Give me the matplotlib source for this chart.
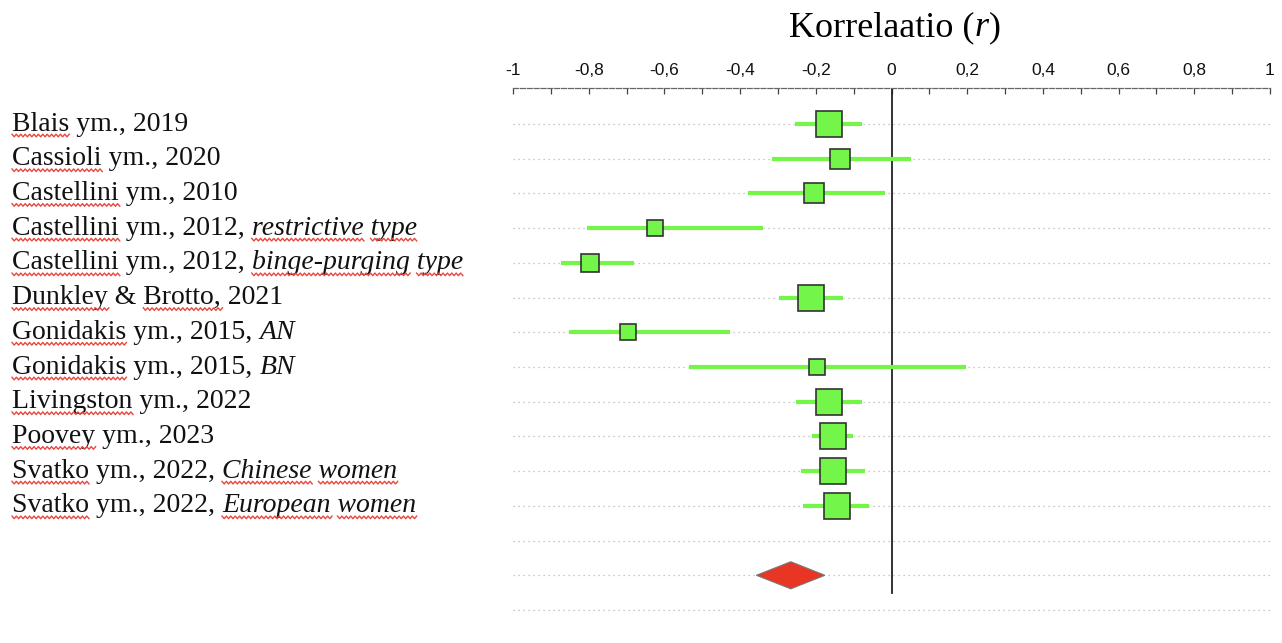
import matplotlib
matplotlib.use("Agg")
import matplotlib.pyplot as plt
from matplotlib.transforms import blended_transform_factory
from matplotlib.patches import Polygon
from matplotlib.lines import Line2D
from matplotlib.font_manager import FontProperties

# ---- data ----
studies = ["Blais ym., 2019", "Cassioli ym., 2020", "Castellini ym., 2010",
           "Castellini ym., 2012, ", "Castellini ym., 2012, ",
           "Dunkley & Brotto, 2021", "Gonidakis ym., 2015, ", "Gonidakis ym., 2015, ",
           "Livingston ym., 2022", "Poovey ym., 2023", "Svatko ym., 2022, ",
           "Svatko ym., 2022, "]
subgroups = ["", "", "", "restrictive type", "binge-purging type", "", "AN", "BN",
             "", "", "Chinese women", "European women"]
# words with spell-check underline in the reference: (word, in_italic_part)
flagged = [[("Blais", 0)], [("Cassioli", 0)], [("Castellini", 0)],
           [("Castellini", 0), ("restrictive", 1), ("type", 1)],
           [("Castellini", 0), ("binge-purging", 1), ("type", 1)],
           [("Dunkley", 0), ("Brotto,", 0)], [("Gonidakis", 0)], [("Gonidakis", 0)],
           [("Livingston", 0)], [("Poovey", 0)],
           [("Svatko", 0), ("Chinese", 1), ("women", 1)],
           [("Svatko", 0), ("European", 1), ("women", 1)]]
r_est = [-0.166, -0.136, -0.206, -0.626, -0.797, -0.213, -0.696, -0.198,
         -0.165, -0.155, -0.155, -0.145]
ci_low = [-0.254, -0.315, -0.380, -0.805, -0.873, -0.297, -0.853, -0.536,
          -0.251, -0.211, -0.240, -0.233]
ci_high = [-0.079, 0.051, -0.016, -0.339, -0.681, -0.127, -0.426, 0.198,
           -0.079, -0.102, -0.071, -0.059]
box_size = [26, 20, 20, 16, 18, 26, 16, 16, 26, 27, 27, 26]  # relative weight (px)
pooled = -0.266
pooled_low = -0.357
pooled_high = -0.176
xticks = [-1, -0.8, -0.6, -0.4, -0.2, 0, 0.2, 0.4, 0.6, 0.8, 1]
xtick_labels = ["-1", "-0,8", "-0,6", "-0,4", "-0,2", "0", "0,2", "0,4", "0,6", "0,8", "1"]

W, H = 1282, 643
fig = plt.figure(figsize=(W / 100, H / 100), dpi=100)
fig.patch.set_facecolor("white")

ax_left, ax_right = 513 / W, 1270 / W
ax_top_px, ax_bot_px = 88, 622
ax = fig.add_axes([ax_left, (H - ax_bot_px) / H, ax_right - ax_left, (ax_bot_px - ax_top_px) / H])

row_px = 34.71
y_top = 1 - (124 - ax_top_px) / row_px
y_bot = 15 + (ax_bot_px - 610) / row_px
ax.set_xlim(-1, 1)
ax.set_ylim(y_bot, y_top)

for s in ["left", "right", "bottom"]:
    ax.spines[s].set_visible(False)
ax.spines["top"].set_color("#666666")
ax.spines["top"].set_linestyle((0, (4, 1.5)))
ax.spines["top"].set_linewidth(0.9)
ax.set_yticks([])
ax.xaxis.tick_top()
ax.set_xticks(xticks)
ax.set_xticklabels(xtick_labels)
ax.set_xticks([x / 10 for x in range(-9, 10, 2)], minor=True)
ax.tick_params(axis="x", which="both", direction="in", length=4, width=0.9,
               color="#444444", pad=7)
for lbl in ax.get_xticklabels():
    lbl.set_family("Liberation Sans")
    lbl.set_fontsize(12.5)
    lbl.set_color("#111111")

n_rows = 15
rows = list(range(1, n_rows + 1))
# dotted gridlines
ax.hlines(rows, -1, 1, colors="#b8b8b8", linestyles=(0, (1, 3)), linewidth=0.9, zorder=1)
# zero line
ax.plot([0, 0], [y_top, 14.5], color="#222222", linewidth=1.3, zorder=2)

green_line = "#74f548"
green_fill = "#74f54a"
for i in range(len(r_est)):
    y = i + 1
    ax.plot([ci_low[i], ci_high[i]], [y, y], color=green_line, linewidth=3, zorder=3,
            solid_capstyle="butt")
    ax.plot(r_est[i], y, marker="s", markersize=box_size[i] / 1.389,
            markerfacecolor=green_fill, markeredgecolor="#333333", markeredgewidth=1.2,
            linestyle="none", zorder=4)

# pooled diamond
yd = 14
hh = 0.39
diamond = Polygon([[pooled_low, yd], [pooled, yd - hh], [pooled_high, yd], [pooled, yd + hh]],
                  closed=True, facecolor="#e83524", edgecolor="#777777", linewidth=0.8, zorder=4)
ax.add_patch(diamond)

# title
tfs = 26
title = fig.text(0, 0, "Korrelaatio (", fontsize=tfs, family="Liberation Serif", va="baseline")
t_r = fig.text(0, 0, "r", fontsize=tfs, family="Liberation Serif", style="italic", va="baseline")
t_p = fig.text(0, 0, ")", fontsize=tfs, family="Liberation Serif", va="baseline")
fig.canvas.draw()
rend = fig.canvas.get_renderer()
w1 = title.get_window_extent(rend).width
w2 = t_r.get_window_extent(rend).width
w3 = t_p.get_window_extent(rend).width
total = w1 + w2 + w3
x0 = 895 - total / 2
base_y = H - 36
title.set_position((x0 / W, base_y / H))
t_r.set_position(((x0 + w1) / W, base_y / H))
t_p.set_position(((x0 + w1 + w2) / W, base_y / H))

# study labels
trans = blended_transform_factory(fig.transFigure, ax.transData)
lab_fs = 20
fp_n = FontProperties(family="Liberation Serif", size=lab_fs)
fp_i = FontProperties(family="Liberation Serif", style="italic", size=lab_fs)


def tw(s, fp):
    return rend.get_text_width_height_descent(s, fp, ismath=False)[0]


_, _, desc_lp = rend.get_text_width_height_descent("lp", fp_n, ismath=False)


def squiggle(xa, xb, yb):
    xs, ys = [], []
    step = 2.2
    k = 0
    x = xa
    while x <= xb:
        xs.append(x / W)
        ys.append((yb + (1.3 if k % 2 == 0 else -1.3)) / H)
        x += step
        k += 1
    fig.add_artist(Line2D(xs, ys, transform=fig.transFigure, color="#e8473f",
                          linewidth=1.0, solid_joinstyle="round"))


for i in range(len(studies)):
    y = i + 1
    t = ax.text(12 / W, y, studies[i], transform=trans, fontsize=lab_fs,
                family="Liberation Serif", va="center", ha="left", clip_on=False,
                color="#111111")
    fig.canvas.draw()
    ext = t.get_window_extent(rend)
    baseline = ext.y0 + desc_lp
    xi = ext.x1
    if subgroups[i]:
        ax.text(xi / W, y, subgroups[i], transform=trans, fontsize=lab_fs,
                family="Liberation Serif", style="italic", va="center", ha="left",
                clip_on=False, color="#111111")
    for word, ital in flagged[i]:
        src, fp, x_origin = (subgroups[i], fp_i, xi) if ital else (studies[i], fp_n, ext.x0)
        pos = src.find(word)
        prefix = src[:pos]
        wword = tw(word, fp)
        start = x_origin + (tw(prefix + word, fp) - wword if prefix else 0)
        squiggle(start, start + wword + 2, baseline - 5)

fig.savefig("out.png", dpi=100, facecolor="white")
